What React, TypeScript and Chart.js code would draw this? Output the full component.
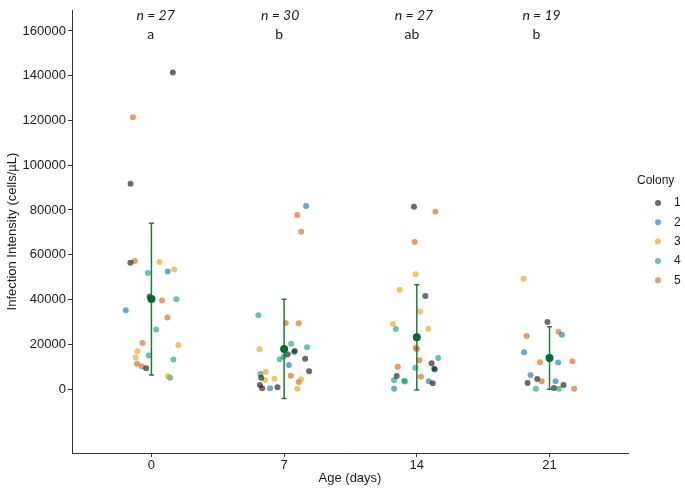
import React, { useEffect, useRef } from "react";
import { Chart, registerables } from "chart.js";

Chart.register(...registerables);

// ---------- data ----------
const colonyNames = ["1", "2", "3", "4", "5"];
const colonyColors = [
  "rgba(0,0,0,0.58)",
  "rgba(0,114,178,0.6)",
  "rgba(230,159,0,0.6)",
  "rgba(0,158,115,0.6)",
  "rgba(213,94,0,0.6)",
];

const dayTicks = [0, 7, 14, 21];
const yTicks = [0, 20000, 40000, 60000, 80000, 100000, 120000, 140000, 160000];

const nLabels = ["n = 27", "n = 30", "n = 27", "n = 19"];
const nLabelX = [0.22, 6.79, 13.85, 20.58];
const nLabelY = 167000;
const groupLetters = ["a", "b", "ab", "b"];
const letterX = [-0.04, 6.74, 13.74, 20.31];
const letterY = 158500;

const meanValues = [40200, 17900, 23100, 13850];
const errLow = [6300, -4300, -400, -150];
const errHigh = [74050, 40100, 46600, 27850];

// colony 1 (jittered age, infection intensity)
const colony1X = [1.13, -1.1, -1.11, -0.1, -0.28, 7.56, 7.19, 8.11, 8.32, 5.79, 5.72, 5.84, 6.65, 13.85, 14.45, 14.78, 14.92, 12.94, 14.84, 20.89, 20.35, 19.84, 21.74, 21.23];
const colony1Y = [141500, 91700, 56400, 41300, 9250, 16980, 15500, 13540, 7900, 5060, 1790, 300, 750, 81500, 41560, 11480, 9080, 5810, 2550, 29940, 4470, 2680, 1790, 450];
// colony 2
const colony2X = [0.86, -1.35, 8.16, 7.25, 6.26, 14.95, 14.63, 12.8, 21.65, 19.66, 21.45, 20.0, 21.32];
const colony2Y = [52540, 35220, 81780, 10730, 300, 8700, 3440, 150, 24270, 16400, 11790, 6260, 3440];
// colony 3
const colony3X = [0.42, 1.2, -0.05, 1.42, -0.74, -0.83, 0.88, 5.7, 6.03, 5.99, 6.49, 7.9, 7.7, 13.94, 13.1, 14.17, 12.74, 14.61, 19.63];
const colony3Y = [56720, 53430, 40400, 19700, 16870, 14030, 5670, 17740, 7730, 4020, 4610, 4320, 150, 51260, 44380, 34550, 29050, 26950, 49300];
// colony 4
const colony4X = [-0.19, 1.32, 0.25, -0.14, 1.16, 0.98, 5.64, 7.37, 8.21, 7.52, 6.77, 6.98, 5.75, 12.89, 15.13, 13.92, 12.8, 13.33, 13.38, 20.28, 21.49];
const colony4Y = [51790, 40150, 26570, 14930, 13130, 5070, 32930, 20250, 18630, 16500, 13270, 14440, 6700, 26810, 13850, 9530, 3890, 3580, 3350, 150, 150];
// colony 5
const colony5X = [-0.98, -0.88, 0.56, 0.84, -0.47, -0.76, -0.51, 7.69, 7.9, 7.09, 7.77, 7.35, 7.77, 14.98, 13.89, 13.95, 14.0, 14.13, 12.99, 14.22, 21.47, 19.79, 20.5, 22.21, 20.59, 22.3];
const colony5Y = [121400, 57160, 39550, 31940, 20600, 11340, 10150, 77760, 70300, 29500, 29360, 5950, 3130, 79240, 65700, 18460, 17740, 12830, 9980, 5500, 25610, 23690, 11930, 12400, 3440, 150];

const colonyXs = [colony1X, colony2X, colony3X, colony4X, colony5X];
const colonyYs = [colony1Y, colony2Y, colony3Y, colony4Y, colony5Y];

// ---------- styles ----------
const FONT = "'Liberation Sans', Arial, sans-serif";
const AXIS_COLOR = "#333333";
const TEXT_COLOR = "#1a1a1a";
const MEAN_COLOR = "#006b2e";
const ERR_COLOR = "#1e7b3c";
const MEAN_INDEX = 5;

const errorBarPlugin = {
  id: "errorBars",
  beforeDatasetDraw(chart: any, args: any) {
    if (args.index !== MEAN_INDEX) return;
    const { ctx, scales } = chart;
    const xs = scales.x;
    const ys = scales.y;
    ctx.save();
    ctx.strokeStyle = ERR_COLOR;
    ctx.lineWidth = 1.5;
    for (let i = 0; i < dayTicks.length; i++) {
      const x = xs.getPixelForValue(dayTicks[i]);
      const y1 = ys.getPixelForValue(errLow[i]);
      const y2 = ys.getPixelForValue(errHigh[i]);
      ctx.beginPath();
      ctx.moveTo(x, y1);
      ctx.lineTo(x, y2);
      ctx.moveTo(x - 2.5, y1);
      ctx.lineTo(x + 2.5, y1);
      ctx.moveTo(x - 2.5, y2);
      ctx.lineTo(x + 2.5, y2);
      ctx.stroke();
    }
    ctx.restore();
  },
};

const annotationPlugin = {
  id: "annotations",
  afterDraw(chart: any) {
    const { ctx, scales } = chart;
    const xs = scales.x;
    const ys = scales.y;
    ctx.save();
    ctx.fillStyle = TEXT_COLOR;
    ctx.textAlign = "center";
    ctx.textBaseline = "middle";
    ctx.font = "italic 14px Lato, 'Liberation Sans', sans-serif";
    for (let i = 0; i < nLabels.length; i++) {
      ctx.fillText(nLabels[i], xs.getPixelForValue(nLabelX[i]), ys.getPixelForValue(nLabelY));
    }
    ctx.font = "14px Lato, 'Liberation Sans', sans-serif";
    for (let i = 0; i < groupLetters.length; i++) {
      ctx.fillText(groupLetters[i], xs.getPixelForValue(letterX[i]), ys.getPixelForValue(letterY));
    }
    ctx.restore();
  },
};

const legendPlugin = {
  id: "colonyLegend",
  afterDraw(chart: any) {
    const { ctx } = chart;
    ctx.save();
    ctx.fillStyle = TEXT_COLOR;
    ctx.textBaseline = "middle";
    ctx.textAlign = "left";
    ctx.font = "12px " + FONT;
    ctx.fillText("Colony", 637, 181);
    ctx.font = "12px " + FONT;
    for (let i = 0; i < colonyNames.length; i++) {
      const y = 203 + i * 19.3;
      ctx.beginPath();
      ctx.fillStyle = colonyColors[i];
      ctx.arc(658, y, 3, 0, Math.PI * 2);
      ctx.fill();
      ctx.fillStyle = TEXT_COLOR;
      ctx.fillText(colonyNames[i], 674, y);
    }
    ctx.restore();
  },
};

export default function App() {
  const canvasRef = useRef<HTMLCanvasElement | null>(null);

  useEffect(() => {
    document.body.style.margin = "0";
    const canvas = canvasRef.current;
    if (!canvas) return;

    const datasets: any[] = colonyNames.map((name, ci) => ({
      label: name,
      data: colonyXs[ci].map((x, i) => ({ x, y: colonyYs[ci][i] })),
      backgroundColor: colonyColors[ci],
      borderColor: "rgba(0,0,0,0)",
      borderWidth: 0,
      pointRadius: 3,
      pointHoverRadius: 3,
      order: 1,
    }));
    datasets.push({
      label: "mean",
      data: dayTicks.map((d, i) => ({ x: d, y: meanValues[i] })),
      backgroundColor: MEAN_COLOR,
      borderColor: MEAN_COLOR,
      borderWidth: 0,
      pointRadius: 4,
      pointHoverRadius: 4,
      order: 0,
    });

    const chart = new Chart(canvas, {
      type: "scatter",
      data: { datasets },
      options: {
        responsive: false,
        animation: false,
        events: [],
        layout: { padding: { top: 10, right: 57, left: 0, bottom: 0 } },
        plugins: {
          legend: { display: false },
          tooltip: { enabled: false },
        },
        scales: {
          x: {
            type: "linear",
            min: -4.19,
            max: 25.14,
            afterBuildTicks: (scale: any) => {
              scale.ticks = dayTicks.map((v) => ({ value: v }));
            },
            afterFit: (scale: any) => {
              scale.height = 36;
            },
            grid: {
              display: true,
              drawOnChartArea: false,
              drawTicks: true,
              tickLength: 4,
              color: AXIS_COLOR,
            },
            border: { display: true, color: AXIS_COLOR, width: 1 },
            ticks: {
              color: TEXT_COLOR,
              font: { family: FONT, size: 13 },
              padding: 1,
              callback: (v: any) => String(v),
            },
            title: {
              display: true,
              text: "Age (days)",
              color: TEXT_COLOR,
              font: { family: FONT, size: 13 },
              padding: { top: 0, bottom: 3 },
            },
          },
          y: {
            type: "linear",
            min: -28603,
            max: 169385,
            afterBuildTicks: (scale: any) => {
              scale.ticks = yTicks.map((v) => ({ value: v }));
            },
            afterFit: (scale: any) => {
              scale.width = 72;
            },
            grid: {
              display: true,
              drawOnChartArea: false,
              drawTicks: true,
              tickLength: 4,
              color: AXIS_COLOR,
            },
            border: { display: true, color: AXIS_COLOR, width: 1 },
            ticks: {
              color: TEXT_COLOR,
              font: { family: FONT, size: 13 },
              padding: 2,
              callback: (v: any) => String(v),
            },
            title: {
              display: true,
              text: "Infection Intensity (cells/µL)",
              color: TEXT_COLOR,
              font: { family: FONT, size: 13 },
              padding: { top: 5, bottom: 0 },
            },
          },
        },
      },
      plugins: [errorBarPlugin, annotationPlugin, legendPlugin],
    });

    return () => chart.destroy();
  }, []);

  return (
    <div style={{ position: "absolute", left: 0, top: 0, width: 685, height: 489 }}>
      <canvas ref={canvasRef} width={685} height={489} style={{ width: 685, height: 489 }} />
    </div>
  );
}
